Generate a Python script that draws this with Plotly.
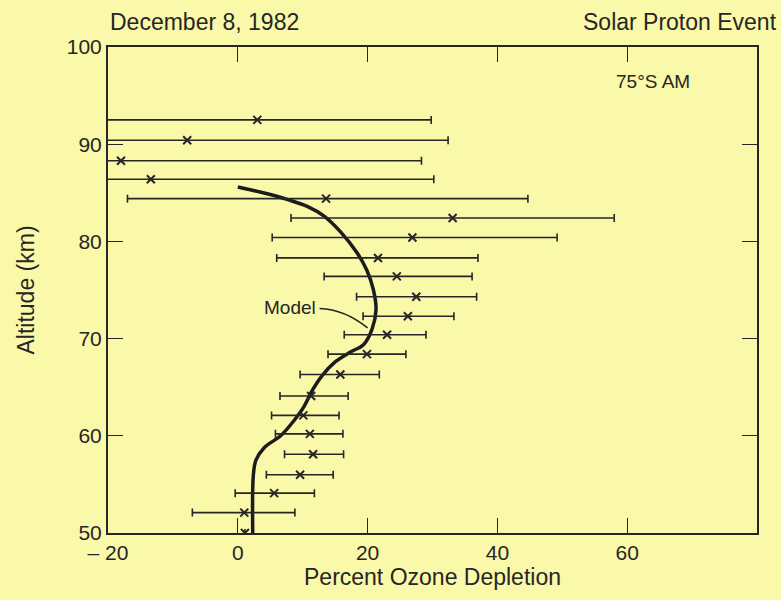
import plotly.graph_objects as go

# Measured data points (percent ozone depletion vs altitude)
altitude = [50.0, 52.1, 54.1, 56.0, 58.1, 60.2, 62.1, 64.1, 66.3, 68.4, 70.4,
            72.3, 74.3, 76.4, 78.3, 80.4, 82.4, 84.4, 86.4, 88.3, 90.4, 92.5]
depletion = [1.1, 1.0, 5.6, 9.6, 11.6, 11.1, 10.1, 11.3, 15.8, 19.9, 23.0,
             26.2, 27.5, 24.5, 21.6, 26.9, 33.1, 13.6, -13.4, -18.0, -7.8, 3.0]
err_plus = [0.0, 7.8, 6.2, 5.1, 4.7, 5.1, 5.5, 5.7, 6.0, 6.0, 6.0,
            7.1, 9.3, 11.6, 15.4, 22.3, 24.9, 31.1, 43.6, 46.3, 40.2, 26.8]
err_minus = [0.0, 8.0, 6.0, 5.2, 4.4, 5.3, 4.9, 4.8, 6.2, 6.0, 6.6,
             6.9, 9.2, 11.2, 15.6, 21.6, 24.9, 30.6, 43.6, 46.3, 40.2, 26.8]

# Model curve
model_alt = [50, 56, 57.5, 58.8, 60, 61.6, 63, 64.7, 66.2, 67.6, 68.6, 69.4,
             71, 73, 75, 77, 78.8, 81, 82.6, 83.6, 84.3, 85, 85.6]
model_dep = [2.3, 2.4, 2.8, 4.1, 6.6, 8.7, 10.2, 11.5, 13.0, 15.0, 17.3, 19.4,
             20.7, 21.3, 20.9, 19.9, 18.4, 15.8, 13.3, 10.7, 7.7, 3.9, 0.0]

x_tickvals = [-20, 0, 20, 40, 60]
x_ticktext = ["\u2013 20", "0", "20", "40", "60"]
y_tickvals = [50, 60, 70, 80, 90, 100]
y_ticktext = ["50", "60", "70", "80", "90", "100"]

BG = "#FAF8A9"
INK = "#262626"
FONT = "Liberation Sans, Arial, sans-serif"

fig = go.Figure()

fig.add_trace(go.Scatter(
    x=model_dep, y=model_alt, mode="lines",
    line=dict(color="#1c1c1c", width=3.5, shape="spline", smoothing=1.0),
    hoverinfo="skip", showlegend=False,
))

fig.add_trace(go.Scatter(
    x=depletion, y=altitude, mode="markers",
    marker=dict(symbol="x-thin", size=8, line=dict(color=INK, width=2), color=INK),
    error_x=dict(type="data", symmetric=False, array=err_plus, arrayminus=err_minus,
                 color=INK, thickness=1.6, width=4),
    showlegend=False,
))

# Leader line for "Model" label
fig.add_shape(type="path", xref="x", yref="y",
              path="M 12.6,73.1 Q 16.5,73.0 20.0,71.1",
              line=dict(color=INK, width=1.6))

fig.add_annotation(x=12.3, y=73.15, xref="x", yref="y", text="Model",
                   showarrow=False, xanchor="right", yanchor="middle",
                   font=dict(family=FONT, size=19, color=INK))
fig.add_annotation(x=0.84, y=0.93, xref="paper", yref="paper", text="75°S AM",
                   showarrow=False, xanchor="center", yanchor="middle",
                   font=dict(family=FONT, size=19, color=INK))
fig.add_annotation(x=0.0, y=1.0, xref="paper", yref="paper", yshift=25,
                   text="December 8, 1982", showarrow=False,
                   xanchor="left", yanchor="middle",
                   font=dict(family=FONT, size=23, color=INK))
fig.add_annotation(x=1.0, y=1.0, xref="paper", yref="paper", yshift=25, xshift=22,
                   text="Solar Proton Event", showarrow=False,
                   xanchor="right", yanchor="middle",
                   font=dict(family=FONT, size=23, color=INK))

fig.update_layout(
    width=781, height=600,
    margin=dict(l=108, r=24, t=47, b=67),
    paper_bgcolor=BG, plot_bgcolor=BG,
    font=dict(family=FONT, size=21, color=INK),
    showlegend=False,
)

fig.update_xaxes(
    range=[-20, 80], tickvals=x_tickvals, ticktext=x_ticktext,
    ticks="inside", ticklen=15, tickwidth=1.3, tickcolor=INK,
    showline=True, linewidth=2, linecolor=INK, mirror="allticks",
    showgrid=False, zeroline=False,
    title=dict(text="Percent Ozone Depletion", font=dict(size=23), standoff=5),
    tickfont=dict(size=21),
)
fig.update_yaxes(
    range=[50, 100], tickvals=y_tickvals, ticktext=y_ticktext,
    ticks="inside", ticklen=15, tickwidth=1.3, tickcolor=INK,
    showline=True, linewidth=2, linecolor=INK, mirror="allticks",
    showgrid=False, zeroline=False,
    title=dict(text="Altitude (km)", font=dict(size=23), standoff=26),
    tickfont=dict(size=21),
)

fig.write_html("out.html")
